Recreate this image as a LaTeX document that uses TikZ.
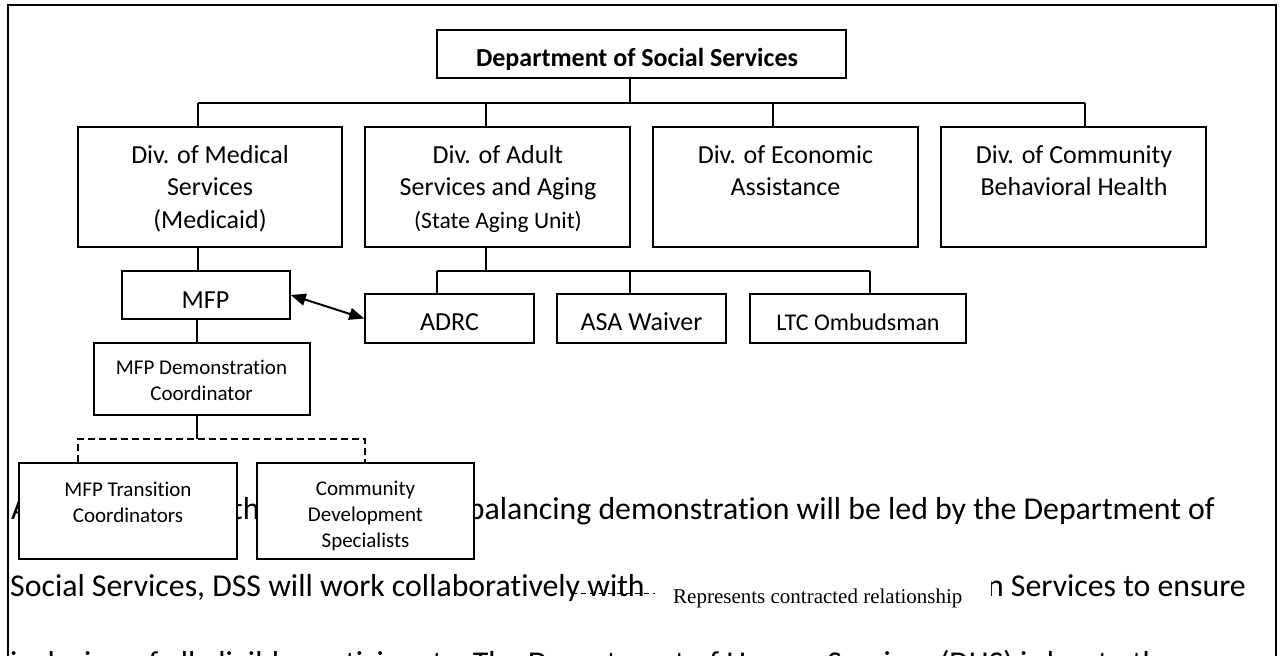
\documentclass[tikz,border=0pt]{standalone}
\usepackage{fontspec}
\setmainfont{Carlito}[Ligatures=NoCommon]
\newfontfamily\legfont{Liberation Serif}
\usetikzlibrary{arrows.meta}
\tikzset{
  box/.style={draw, fill=white, line width=1.6pt, inner sep=0pt},
  lab/.style={inner sep=0pt, anchor=base},
  mlab/.style={inner sep=0pt, anchor=north, align=center},
  big/.style={font=\fontsize{26}{32.5}\selectfont},
  small/.style={font=\fontsize{21}{26}\selectfont},
  conn/.style={line width=1.4pt},
  contract/.style={line width=1.4pt, dash pattern=on 7pt off 4pt},
  bodytxt/.style={inner sep=0pt, font=\fontsize{31.8}{38}\selectfont},
}
\begin{document}
\begin{tikzpicture}[x=1pt,y=-1pt]
\useasboundingbox (0,0) rectangle (1280,656);
\clip (0,0) rectangle (1280,656);
% outer frame
\draw[line width=1.6pt] (8,700) -- (8,5) -- (1276,5) -- (1276,700);
% background body text
\node[bodytxt, anchor=base west] (t1a) at (11,519) {A};
\node[bodytxt, anchor=base west] (t1b) at (232,519) {the};
\node[bodytxt, anchor=base east] (t1c) at (1215,519) {rebalancing demonstration will be led by the Department of};
\node[bodytxt, anchor=base west] (t2a) at (10,596) {Social Services, DSS will work collaboratively with};
\node[bodytxt, anchor=base east] (t2b) at (1246,596) {n Services to ensure};
\node[bodytxt, anchor=base west] (t3) at (10,673) {inclusion of all eligible participants. The Department of Human Services (DHS) is key to the};
% legend
\fill[white] (652,566) rectangle (991,622);
\node[inner sep=0pt, anchor=base west, font=\legfont\fontsize{21}{25}\selectfont] (leg) at (673,603) {Represents contracted relationship};
\coordinate (ls1) at (572,593);
\coordinate (ls2) at (655,593);
\draw[line width=1pt, dash pattern=on 5pt off 4pt] (ls1) -- (ls2);
% boxes
\node[box, minimum width=409pt, minimum height=48pt] (dss) at (641.5,54) {};
\node[box, minimum width=264pt, minimum height=120pt] (med) at (210,187) {};
\node[box, minimum width=265pt, minimum height=120pt] (adult) at (497.5,187) {};
\node[box, minimum width=265pt, minimum height=120pt] (econ) at (785.5,187) {};
\node[box, minimum width=265pt, minimum height=120pt] (comm) at (1073.5,187) {};
\node[box, minimum width=168pt, minimum height=48pt] (mfp) at (206,295) {};
\node[box, minimum width=169pt, minimum height=49pt] (adrc) at (449.5,318.5) {};
\node[box, minimum width=169pt, minimum height=49pt] (asa) at (641.5,318.5) {};
\node[box, minimum width=216pt, minimum height=49pt] (ltc) at (858,318.5) {};
\node[box, minimum width=216pt, minimum height=72pt] (demo) at (202,379) {};
\node[box, minimum width=218pt, minimum height=96pt] (trans) at (128,511) {};
\node[box, minimum width=217pt, minimum height=96pt] (cds) at (365.5,511) {};
% labels
\node[lab, font=\bfseries\fontsize{26}{32.5}\selectfont] (dsst) at (637,66) {Department of Social Services};
\node[mlab, big] (medt) at (210,141) {\rule{0pt}{22pt}Div. of Medical\\Services\\(Medicaid)};
\node[mlab, big] (adultt) at (498,141) {\rule{0pt}{22pt}Div. of Adult\\Services and Aging\\{\fontsize{23.5}{32.5}\selectfont(State Aging Unit)}};
\node[mlab, big] (econt) at (785.5,141) {\rule{0pt}{22pt}Div. of Economic\\Assistance};
\node[mlab, big] (commt) at (1074,141) {\rule{0pt}{22pt}Div. of Community\\Behavioral Health};
\node[lab, big] (mfpt) at (205.5,308) {MFP};
\node[lab, big] (adrct) at (449.5,330) {ADRC};
\node[lab, big] (asat) at (641.5,330) {ASA Waiver};
\node[lab, font=\fontsize{24}{30}\selectfont] (ltct) at (858,330) {LTC Ombudsman};
\node[mlab, small] (demot) at (201.5,356) {\rule{0pt}{18pt}MFP Demonstration\\Coordinator};
\node[mlab, small] (transt) at (128,478) {\rule{0pt}{18pt}MFP Transition\\Coordinators};
\node[mlab, small] (cdst) at (365.5,477) {\rule{0pt}{18pt}Community\\Development\\Specialists};
% connectors: top level
\coordinate (d0) at (630,103);
\coordinate (b1) at (198,103);
\coordinate (b2) at (486,103);
\coordinate (b3) at (773,103);
\coordinate (b4) at (1085,103);
\draw[conn] (dss.south -| d0) -- (d0);
\draw[conn] (b1) -- (b4);
\draw[conn] (b1) -- (b1 |- med.north);
\draw[conn] (b2) -- (b2 |- adult.north);
\draw[conn] (b3) -- (b3 |- econ.north);
\draw[conn] (b4) -- (b4 |- comm.north);
% medical -> MFP
\coordinate (m1) at (198,271);
\draw[conn] (med.south -| m1) -- (mfp.north -| m1);
% adult -> units
\coordinate (a0) at (486,271);
\coordinate (s1) at (437,271);
\coordinate (s2) at (630,271);
\coordinate (s3) at (870,271);
\draw[conn] (adult.south -| a0) -- (a0);
\draw[conn] (s1) -- (s3);
\draw[conn] (s1) -- (s1 |- adrc.north);
\draw[conn] (s2) -- (s2 |- asa.north);
\draw[conn] (s3) -- (s3 |- ltc.north);
% MFP <-> ADRC
\draw[line width=2pt, {Triangle[length=15pt,width=12pt]}-{Triangle[length=15pt,width=12pt]}] (mfp.east) -- (adrc.west);
% MFP -> demo
\coordinate (m2) at (197,343);
\draw[conn] (mfp.south -| m2) -- (demo.north -| m2);
% demo -> contracted staff
\coordinate (dj) at (197,439);
\coordinate (dl) at (78,439);
\coordinate (dr) at (365,439);
\draw[conn] (demo.south -| dj) -- (dj);
\draw[contract] (dl |- trans.north) -- (dl) -- (dr) -- (dr |- cds.north);
\end{tikzpicture}
\end{document}
